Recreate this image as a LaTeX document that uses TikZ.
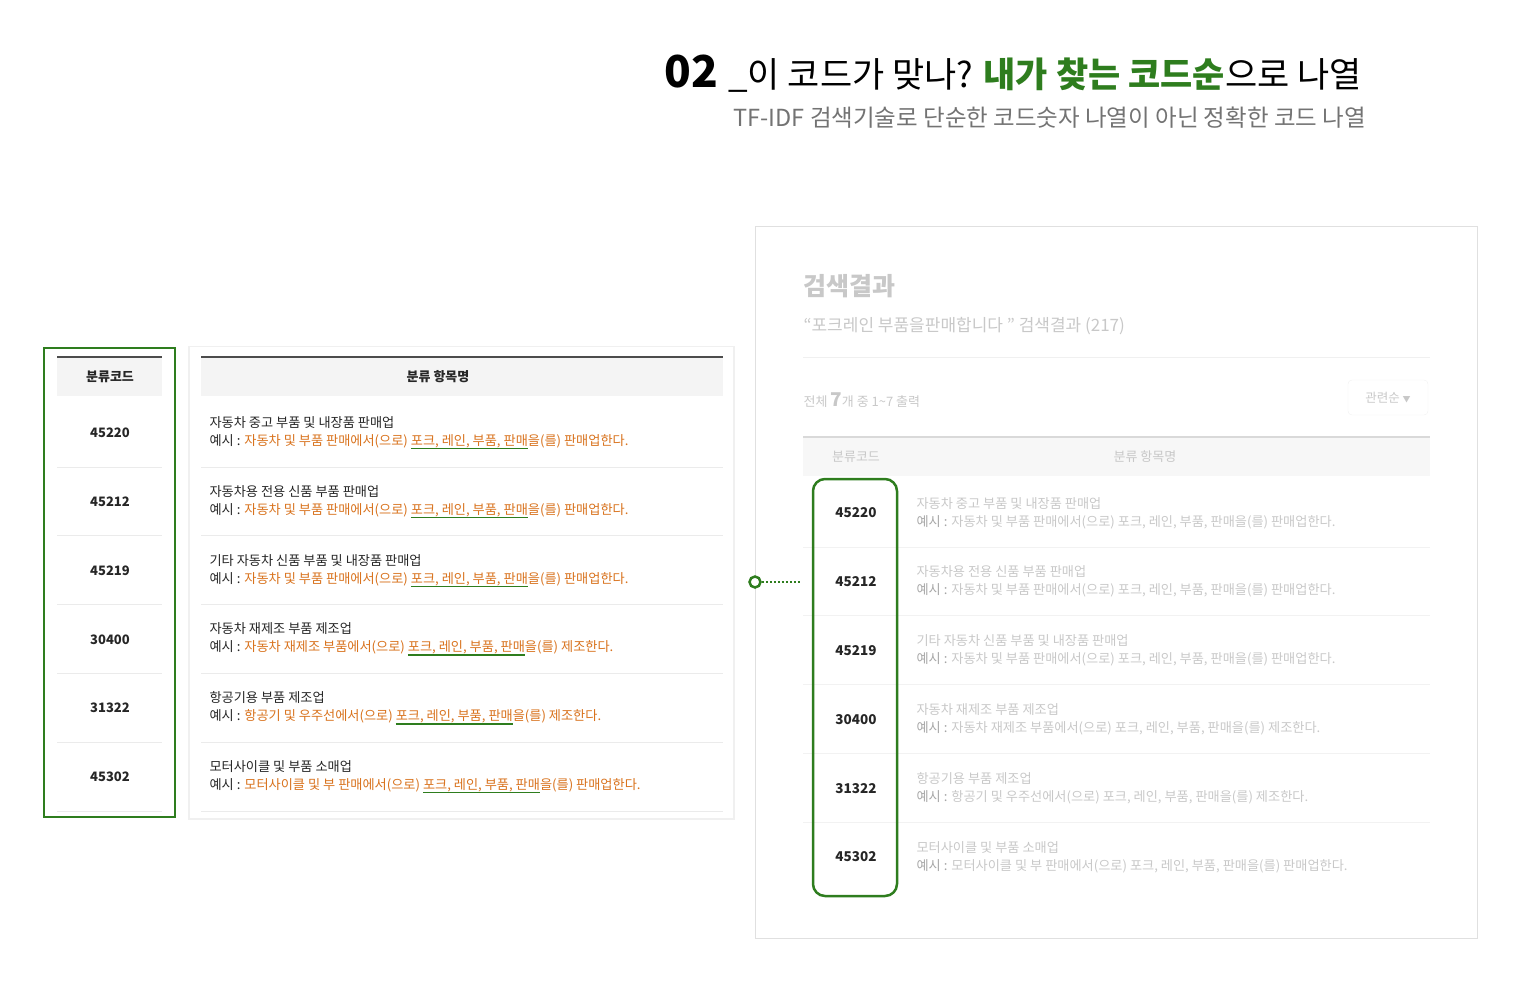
\documentclass[tikz,border=0pt]{standalone}
\usepackage{fontspec}
\setmainfont{Noto Sans CJK KR}
\definecolor{gr}{HTML}{2E7D1E}
\definecolor{org}{HTML}{D9731E}
\definecolor{lg}{HTML}{C8C8C8}
\definecolor{hd}{HTML}{F4F4F4}
\newcommand\grul[1]{\setbox0\hbox{#1}\rlap{\color{gr}\rule[-4pt]{\wd0}{1.5pt}}\box0}
\tikzset{cell/.style={font=\fontsize{13}{15}\selectfont\bfseries, text=black!85},
  item/.style={anchor=west, align=left, font=\fontsize{13.2}{18}\selectfont, text=black!85},
  gitem/.style={anchor=west, align=left, font=\fontsize{13.2}{18}\selectfont, text=lg}}
\begin{document}
\begin{tikzpicture}[x=1pt,y=-1pt]
\useasboundingbox (0,0) rectangle (1520,1000);
% title
\node[anchor=base east, inner sep=0] (t1) at (1362,88) {\fontsize{44}{46}\selectfont\bfseries 02 \fontsize{35}{40}\selectfont\mdseries \_이 코드가 맞나? {\color{gr}\bfseries 내가 찾는 코드순}으로 나열};
\node[anchor=base east, inner sep=0, text=black!55] (t2) at (1366,127) {\fontsize{23.5}{28}\selectfont TF-IDF 검색기술로 단순한 코드숫자 나열이 아닌 정확한 코드 나열};
% left card
\fill[black!6] (188,346) rectangle (735,820);
\fill[white] (190,347) rectangle (733,818);
\fill[hd] (201,357) rectangle (723,396);
\draw[black!70, line width=1.2pt] (201,357) -- (723,357);
\node[cell] (h2) at (438,377) {분류 항목명};
\fill[hd] (57,357) rectangle (162,396);
\draw[black!70, line width=1.2pt] (57,357) -- (162,357);
\node[cell] (h1) at (110,377) {분류코드};
\draw[gr, line width=2.2pt] (44,348) rectangle (175,817) ;
\foreach \i/\c/\t/\a/\b in {
 0/45220/자동차 중고 부품 및 내장품 판매업/자동차 및 부품 판매에서(으로)/판매업한다.,
 1/45212/자동차용 전용 신품 부품 판매업/자동차 및 부품 판매에서(으로)/판매업한다.,
 2/45219/기타 자동차 신품 부품 및 내장품 판매업/자동차 및 부품 판매에서(으로)/판매업한다.,
 3/30400/자동차 재제조 부품 제조업/자동차 재제조 부품에서(으로)/제조한다.,
 4/31322/항공기용 부품 제조업/항공기 및 우주선에서(으로)/제조한다.,
 5/45302/모터사이클 및 부품 소매업/모터사이클 및 부 판매에서(으로)/판매업한다.}{
 \pgfmathsetmacro\y{433+68.8*\i}
 \node[cell] (lc\i) at (110,\y) {\c};
 \node[item] (li\i) at (206,\y) {\t\\ 예시 : {\color{org}\a\ \grul{포크, 레인, 부품, 판매}을(를) \b}};
 \draw[black!8, line width=1pt] (57,\y+34) -- (162,\y+34) (201,\y+34) -- (723,\y+34);
 \node[cell, font=\fontsize{13.5}{15}\selectfont\bfseries] (rc\i) at (856,\y+80) {\c};
 \node[gitem] (ri\i) at (913,\y+80) {\t\\ {\color{black!35}예시 :} \a\ 포크, 레인, 부품, 판매을(를) \b};
 \ifnum\i<5 \draw[black!5, line width=1pt] (803,\y+114) -- (1430,\y+114);\fi
}
% right panel
\draw[black!12, line width=1pt] (755,227) rectangle (1477,938);
\node[anchor=west, text=lg] (rt) at (800,286) {\fontsize{25}{28}\selectfont\bfseries 검색결과};
\node[anchor=west, text=lg] (rq) at (800,326) {\fontsize{17}{20}\selectfont “포크레인 부품을판매합니다 ” 검색결과 (217)};
\draw[black!6] (803,357) -- (1430,357);
\node[anchor=west, text=lg] (rn) at (800,400) {\fontsize{13}{15}\selectfont 전체 {\fontsize{19}{20}\selectfont\bfseries 7}개 중 1\textasciitilde7 출력};
\draw[black!6, rounded corners=4pt] (1348,380) rectangle (1428,415);
\node[text=lg] (rs) at (1388,398) {\fontsize{12.5}{15}\selectfont 관련순 \fontsize{8}{10}\selectfont▼};
\fill[black!3] (803,438) rectangle (1430,476);
\draw[black!15, line width=1.5pt] (803,437) -- (1430,437);
\node[text=lg] (rh1) at (856,457) {\fontsize{13}{15}\selectfont 분류코드};
\node[text=lg] (rh2) at (1145,457) {\fontsize{13}{15}\selectfont 분류 항목명};
\draw[gr, line width=2.5pt, rounded corners=12pt] (813,479) rectangle (897,896);
\node[draw=gr, line width=2.5pt, circle, minimum size=11pt, inner sep=0, fill=white] (dot) at (755,582) {};
\coordinate (dend) at (801,582);
\draw[gr, line width=2pt, dotted] (dot.east) -- (dend);
\end{tikzpicture}
\end{document}
